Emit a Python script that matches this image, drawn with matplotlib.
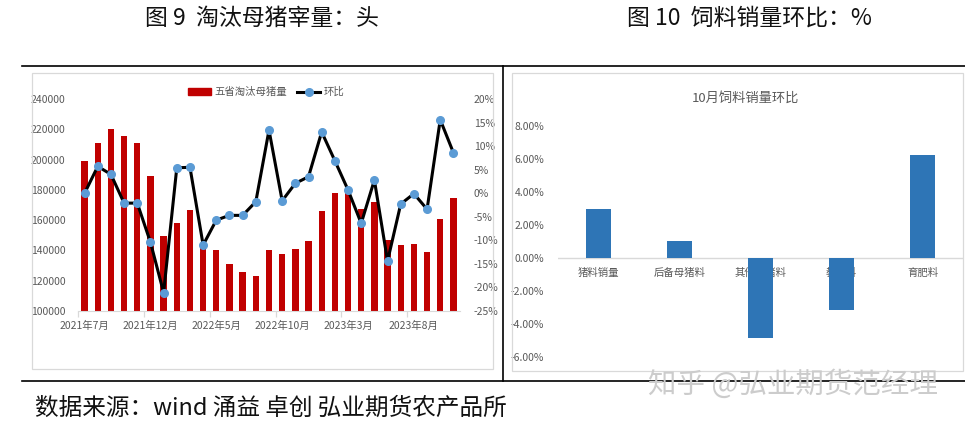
import matplotlib
matplotlib.use('Agg')
import matplotlib.pyplot as plt
from matplotlib.patches import Rectangle
from matplotlib.lines import Line2D

plt.rcParams['font.family'] = ['Noto Sans CJK SC', 'DejaVu Sans']
plt.rcParams['axes.unicode_minus'] = False

# ---------------- data ----------------
months = ['2021年7月', '2021年8月', '2021年9月', '2021年10月', '2021年11月', '2021年12月',
          '2022年1月', '2022年2月', '2022年3月', '2022年4月', '2022年5月', '2022年6月',
          '2022年7月', '2022年8月', '2022年9月', '2022年10月', '2022年11月', '2022年12月',
          '2023年1月', '2023年2月', '2023年3月', '2023年4月', '2023年5月', '2023年6月',
          '2023年7月', '2023年8月', '2023年9月', '2023年10月', '2023年11月']
cull_sows = [199000, 211000, 220000, 215500, 211000, 189000, 149500, 158000, 166500, 143000,
             140000, 131200, 125500, 123300, 140000, 137900, 141200, 146500, 165800, 177700,
             178000, 167300, 172000, 147200, 143600, 144000, 139200, 160900, 174900]
mom_pct = [0.0, 5.7, 4.0, -2.1, -2.1, -10.4, -21.1, 5.4, 5.5, -11.0, -5.7, -4.7, -4.7, -1.8,
           13.4, -1.6, 2.1, 3.5, 13.0, 6.9, 0.7, -6.4, 2.8, -14.4, -2.3, -0.1, -3.4, 15.6, 8.6]
label_idx = [0, 5, 10, 15, 20, 25]

feed_cats = ['猪料销量', '后备母猪料', '其他母猪料', '教槽料', '育肥料']
feed_mom = [2.96, 1.02, -4.85, -3.15, 6.22]

W, H = 965, 425
fig = plt.figure(figsize=(W / 100, H / 100), dpi=100)
fig.patch.set_facecolor('white')


def fx(px):
    return px / W


def fy(py):
    return 1 - py / H


GRAY = '#595959'
LGRAY = '#D9D9D9'

# ---------------- frame lines & boxes ----------------
fig.add_artist(Line2D([fx(22), fx(965)], [fy(66), fy(66)], color='black', lw=1.2, transform=fig.transFigure))
fig.add_artist(Line2D([fx(22), fx(965)], [fy(381), fy(381)], color='black', lw=1.2, transform=fig.transFigure))
fig.add_artist(Line2D([fx(503), fx(503)], [fy(66), fy(381)], color='black', lw=1.2, transform=fig.transFigure))
fig.add_artist(Rectangle((fx(32), fy(369)), fx(493 - 32), (369 - 73) / H, fill=False, ec=LGRAY, lw=0.9,
                         transform=fig.transFigure))
fig.add_artist(Rectangle((fx(512), fy(371)), fx(963 - 512), (371 - 73) / H, fill=False, ec=LGRAY, lw=0.9,
                         transform=fig.transFigure))

# titles
fig.text(fx(145), fy(18), '图 9  淘汰母猪宰量：头', fontsize=16.5, va='center', ha='left', color='#111111')
fig.text(fx(627), fy(18), '图 10  饲料销量环比：%', fontsize=16.5, va='center', ha='left', color='#111111')
fig.text(fx(35), fy(408), '数据来源：wind 涌益 卓创 弘业期货农产品所', fontsize=17, va='center', ha='left',
         color='#111111')
fig.text(fx(648), fy(385), '知乎 @弘业期货范经理', fontsize=20.5, va='center', ha='left', color='#cccccc')

# ---------------- left chart ----------------
ax = fig.add_axes([fx(78), fy(311), fx(460 - 78), (311 - 99) / H])
x = list(range(len(months)))
ax.bar(x, cull_sows, width=0.48, color='#C00000', zorder=2)
ax.set_ylim(100000, 240000)
ax.set_yticks(range(100000, 240001, 20000))
ax.set_xlim(-0.5, len(months) - 0.5)
ax.set_xticks(label_idx, [months[i] for i in label_idx])
ax.set_xticks([i - 0.5 for i in label_idx], minor=True)
ax.tick_params(axis='x', which='major', length=0, labelsize=7.5, labelcolor=GRAY, pad=7)
ax.tick_params(axis='x', which='minor', length=4, color=LGRAY, width=0.9)
ax.tick_params(axis='y', length=0, labelsize=7.5, labelcolor=GRAY, pad=9)
for s in ['top', 'right', 'left']:
    ax.spines[s].set_visible(False)
ax.spines['bottom'].set_color(LGRAY)
ax.set_facecolor('none')

ax2 = ax.twinx()
ax2.plot(x, mom_pct, color='black', lw=2.2, marker='o', ms=5.5, mfc='#5B9BD5', mec='#5B9BD5', zorder=3)
ax2.set_ylim(-25, 20)
ax2.set_yticks(range(-25, 21, 5))
ax2.set_yticklabels([f'{v}%' for v in range(-25, 21, 5)])
ax2.tick_params(axis='y', length=0, labelsize=7.5, labelcolor=GRAY, pad=10)
for s in ['top', 'right', 'left', 'bottom']:
    ax2.spines[s].set_visible(False)

leg_bar = Rectangle((0, 0), 1, 1, color='#C00000')
leg_line = Line2D([], [], color='black', lw=2.2, marker='o', ms=5.5, mfc='#5B9BD5', mec='#5B9BD5')
fig.legend([leg_bar, leg_line], ['五省淘汰母猪量', '环比'], loc='center', bbox_to_anchor=(fx(266), fy(92)),
           ncol=2, frameon=False, fontsize=7.5, labelcolor=GRAY, handlelength=2.2, handleheight=0.6,
           columnspacing=1.0, handletextpad=0.3)

# ---------------- right chart ----------------
ax3 = fig.add_axes([fx(558), fy(357), fx(963 - 558), (357 - 126) / H])
xc = list(range(len(feed_cats)))
ax3.bar(xc, feed_mom, width=0.31, color='#2E75B6', zorder=3)
ax3.axhline(0, color=LGRAY, lw=1.0, zorder=2)
ax3.set_ylim(-6, 8)
ax3.set_yticks(range(-6, 9, 2))
ax3.set_yticklabels([f'{v:.2f}%' for v in range(-6, 9, 2)])
ax3.set_xlim(-0.5, len(feed_cats) - 0.5)
ax3.set_xticks([])
ax3.tick_params(axis='y', length=0, labelsize=7.5, labelcolor=GRAY, pad=10)
for s in ['top', 'right', 'left', 'bottom']:
    ax3.spines[s].set_visible(False)
for i, c in enumerate(feed_cats):
    ax3.text(i, -0.9, c, ha='center', va='center', fontsize=7.5, color=GRAY, zorder=1)
fig.text(fx(745), fy(98), '10月饲料销量环比', ha='center', va='center', fontsize=9.5, color=GRAY)

fig.savefig('out.png', dpi=100)
